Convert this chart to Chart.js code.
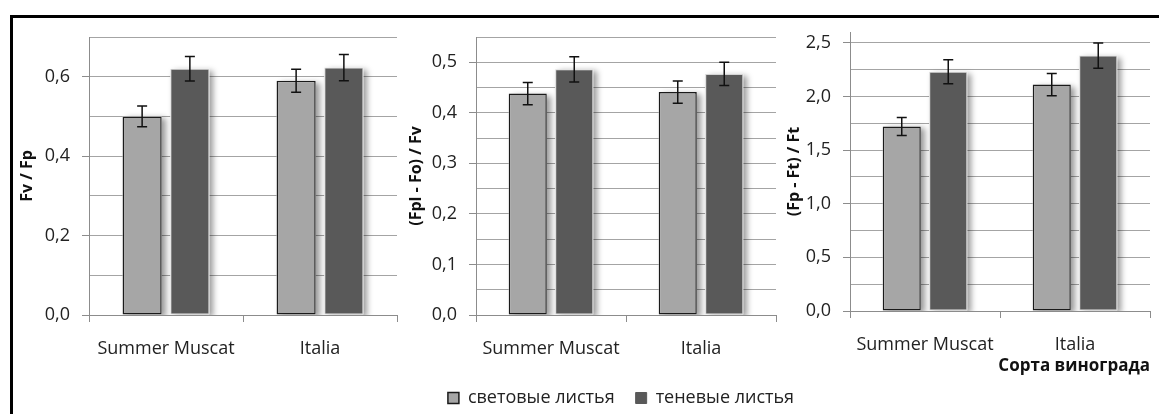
<!DOCTYPE html>
<html>
<head>
<meta charset="utf-8">
<script src="https://cdn.jsdelivr.net/npm/chart.js@4.4.1/dist/chart.umd.min.js"></script>
<style>
  html, body { margin: 0; padding: 0; background: #fff; }
  body { width: 1159px; height: 414px; position: relative; overflow: hidden; }
  #frame { position: absolute; left: 10px; top: 15px; width: 1300px; height: 600px;
           border-left: 3px solid #000; border-top: 3px solid #000; }
  .box { position: absolute; }
</style>
</head>
<body>
<div id="frame"></div>
<div class="box" style="left:12px;top:20px;width:388px;height:345px"><canvas id="c1"></canvas></div>
<div class="box" style="left:400px;top:20px;width:442px;height:397px"><canvas id="c2"></canvas></div>
<div class="box" style="left:780px;top:20px;width:378px;height:356px"><canvas id="c3"></canvas></div>
<script>
// --- data ---
const categories  = ['Summer Muscat', 'Italia'];
const seriesNames = ['световые листья', 'теневые листья'];

// Fv / Fp
const fvfpLight    = [0.50, 0.59];
const fvfpShade    = [0.62, 0.623];
const fvfpLightErr = [0.026, 0.029];
const fvfpShadeErr = [0.031, 0.033];
const fvfpTicks    = [0, 0.1, 0.2, 0.3, 0.4, 0.5, 0.6, 0.7];

// (Fpl - Fo) / Fv
const fplLight    = [0.438, 0.441];
const fplShade    = [0.486, 0.477];
const fplLightErr = [0.022, 0.022];
const fplShadeErr = [0.025, 0.023];
const fplTicks    = [0, 0.05, 0.1, 0.15, 0.2, 0.25, 0.3, 0.35, 0.4, 0.45, 0.5, 0.55];

// (Fp - Ft) / Ft
const rfdLight    = [1.72, 2.11];
const rfdShade    = [2.23, 2.38];
const rfdLightErr = [0.084, 0.104];
const rfdShadeErr = [0.112, 0.118];
const rfdTicks    = [0, 0.25, 0.5, 0.75, 1, 1.25, 1.5, 1.75, 2, 2.25, 2.5];

Chart.defaults.font.family = "'Open Sans', 'DejaVu Sans', sans-serif";
Chart.defaults.color = '#222';
Chart.defaults.animation = false;

const AXIS = '#8c8c8c';
const GRID = '#a4a4a4';

// soft shadow behind the bars, like the spreadsheet original
const barShadow = {
  id: 'barShadow',
  beforeDatasetsDraw(chart) {
    const { ctx, chartArea: a } = chart;
    ctx.save();
    ctx.beginPath();
    ctx.rect(a.left, a.top, a.right - a.left + 10, a.bottom - a.top);
    ctx.clip();
    ctx.shadowColor = 'rgba(0,0,0,0.4)';
    ctx.shadowBlur = 6;
    ctx.shadowOffsetX = 4;
    ctx.shadowOffsetY = 2;
    ctx.fillStyle = '#fff';
    chart.data.datasets.forEach((ds, i) => {
      chart.getDatasetMeta(i).data.forEach(bar => {
        const { x, y, base, width } = bar.getProps(['x', 'y', 'base', 'width']);
        ctx.fillRect(x - width / 2, y, width, base - y);
      });
    });
    ctx.restore();
  }
};

// error bars from dataset.errors
const errorBars = {
  id: 'errorBars',
  afterDatasetsDraw(chart) {
    const { ctx } = chart;
    const ys = chart.scales.y;
    chart.data.datasets.forEach((ds, i) => {
      chart.getDatasetMeta(i).data.forEach((bar, j) => {
        const v = ds.data[j], e = ds.errors[j];
        const t = ys.getPixelForValue(v + e);
        const b = ys.getPixelForValue(v - e);
        ctx.save();
        ctx.strokeStyle = '#111';
        ctx.lineWidth = 1.5;
        ctx.beginPath();
        ctx.moveTo(bar.x, t); ctx.lineTo(bar.x, b);
        ctx.moveTo(bar.x - 5, t); ctx.lineTo(bar.x + 5, t);
        ctx.moveTo(bar.x - 5, b); ctx.lineTo(bar.x + 5, b);
        ctx.stroke();
        ctx.restore();
      });
    });
  }
};

function makeChart(id, p) {
  const isMajor = v => Math.abs(v / p.major - Math.round(v / p.major)) < 1e-6;

  const scales = {
    x: {
      offset: true,
      grid: { offset: true, drawOnChartArea: false, tickLength: 7, tickColor: AXIS },
      border: { color: AXIS },
      ticks: { padding: 16, color: '#222', font: { size: 18 } },
      title: p.xTitle
        ? { display: true, text: p.xTitle, align: 'end', color: '#111',
            font: { size: 17, weight: 'bold' }, padding: { top: 0, bottom: 0 } }
        : { display: false },
      afterFit: s => { s.height = p.xH; s.paddingLeft = 0; s.paddingRight = 0; },
    },
    y: {
      min: 0,
      max: p.max,
      border: { color: AXIS },
      afterBuildTicks: s => { s.ticks = p.ticks.map(v => ({ value: v })); },
      grid: {
        tickLength: 7,
        color: GRID,
        tickColor: c => (c.tick && isMajor(c.tick.value) ? AXIS : 'rgba(0,0,0,0)'),
      },
      ticks: {
        autoSkip: false,
        padding: 12,
        color: '#222',
        font: { size: 18 },
        callback: v => (isMajor(v) ? v.toFixed(1).replace('.', ',') : ''),
      },
      title: { display: true, text: p.yTitle, color: '#111',
               font: { size: 16, weight: 'bold' }, padding: { top: p.yTitlePad, bottom: 0 } },
      // fixed width, and no extra room reserved for the end labels
      afterFit: s => { s.width = p.yW; s.paddingTop = 0; s.paddingBottom = 0; },
    },
  };

  // empty right-hand axis, only used to reserve space without narrowing the legend
  if (p.rightW) {
    scales.yRight = {
      position: 'right',
      grid: { display: false },
      border: { display: false },
      ticks: { display: false },
      afterFit: s => { s.width = p.rightW; s.paddingTop = 0; s.paddingBottom = 0; },
    };
  }

  return new Chart(document.getElementById(id), {
    type: 'bar',
    data: {
      labels: categories,
      datasets: [
        { label: seriesNames[0], data: p.light, errors: p.lightErr,
          backgroundColor: '#a6a6a6', borderColor: '#1a1a1a', borderWidth: 1.5, borderSkipped: false },
        { label: seriesNames[1], data: p.shade, errors: p.shadeErr,
          backgroundColor: '#595959', borderColor: '#d4d4d4', borderWidth: 1, borderSkipped: false },
      ],
    },
    options: {
      responsive: true,
      maintainAspectRatio: false,
      categoryPercentage: 0.62,
      barPercentage: 0.82,
      layout: { padding: p.pad, autoPadding: false },
      plugins: {
        tooltip: { enabled: false },
        legend: {
          display: !!p.legend,
          position: 'bottom',
          labels: {
            boxWidth: 11, boxHeight: 11, padding: 21, color: '#222',
            font: { size: 18 },
            generateLabels(chart) {
              const items = Chart.defaults.plugins.legend.labels.generateLabels(chart);
              items[1].strokeStyle = '#595959';
              return items;
            },
          },
        },
      },
      scales,
    },
    plugins: [barShadow, errorBars],
  });
}

makeChart('c1', {
  light: fvfpLight, shade: fvfpShade, lightErr: fvfpLightErr, shadeErr: fvfpShadeErr,
  max: 0.7, ticks: fvfpTicks, major: 0.2, yTitle: 'Fv / Fp',
  pad: { top: 17, right: 3, left: 0, bottom: 0 }, yW: 77, xH: 50, yTitlePad: 6,
});

makeChart('c2', {
  light: fplLight, shade: fplShade, lightErr: fplLightErr, shadeErr: fplShadeErr,
  max: 0.55, ticks: fplTicks, major: 0.1, yTitle: '(Fpl - Fo) / Fv',
  pad: { top: 17, right: 0, left: 0, bottom: 0 }, yW: 76, xH: 53, yTitlePad: 7,
  rightW: 66, legend: true,
});

makeChart('c3', {
  light: rfdLight, shade: rfdShade, lightErr: rfdLightErr, shadeErr: rfdShadeErr,
  max: 2.6, ticks: rfdTicks, major: 0.5, yTitle: '(Fp - Ft) / Ft', xTitle: 'Сорта винограда',
  pad: { top: 12, right: 8, left: 0, bottom: 0 }, yW: 70, xH: 65, yTitlePad: 5,
});
</script>
</body>
</html>
